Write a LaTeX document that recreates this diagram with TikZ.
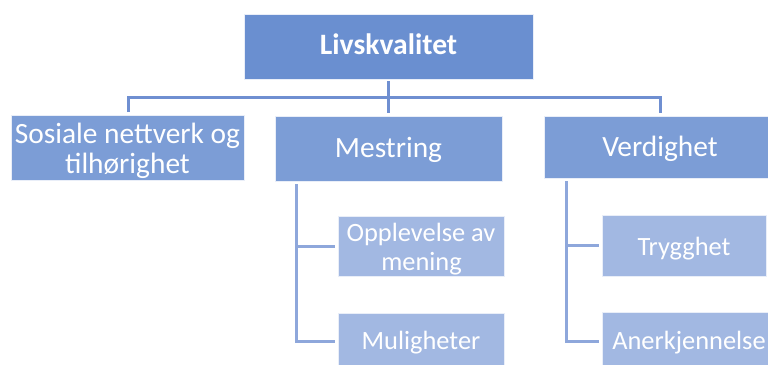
\documentclass[tikz,border=0pt]{standalone}
\usepackage{fontspec}
\setmainfont{Carlito}
\definecolor{topfill}{HTML}{6A8FD0}
\definecolor{midfill}{HTML}{7C9DD6}
\definecolor{lowfill}{HTML}{A2B8E2}
\definecolor{lineA}{HTML}{6F8FD1}
\definecolor{lineB}{HTML}{8EA7DB}
\begin{document}
\begin{tikzpicture}[x=1pt,y=-1pt,
  boxbase/.style={draw=white!85!topfill, line width=0.8pt, text=white, inner sep=0pt, text depth=5pt},
  topbox/.style={boxbase, fill=topfill, font=\fontsize{29.6}{31}\selectfont\bfseries},
  midbox/.style={boxbase, fill=midfill, font=\fontsize{29.4}{30}\selectfont},
  lowbox/.style={boxbase, fill=lowfill, font=\fontsize{26.4}{28.5}\selectfont},
  midtext/.style={text=white, inner sep=0pt, anchor=base, font=\fontsize{29.4}{30}\selectfont},
  lowtext/.style={text=white, inner sep=0pt, anchor=base, font=\fontsize{26.4}{28.5}\selectfont},
  conA/.style={draw=lineA, line width=3pt},
  conB/.style={draw=lineB, line width=3pt}]
\useasboundingbox (0,0) rectangle (768,364);
\clip (0,0) rectangle (768,364);
% top
\node[topbox, minimum width=289pt, minimum height=65pt, text height=20.6pt] (top) at (388.5,46.5) {Livskvalitet};
% level 2
\node[midbox, minimum width=233pt, minimum height=65pt] (sos) at (128,148) {};
\node[midtext] (sosA) at (127.5,143.3) {Sosiale nettverk og};
\node[midtext] (sosB) at (127.5,173.3) {tilhørighet};
\node[midbox, minimum width=227pt, minimum height=65pt, text height=22pt] (mes) at (388.5,148.5) {Mestring};
\node[midbox, minimum width=232pt, minimum height=62pt, text height=23pt] (ver) at (660,147) {Verdighet};
% level 3
\node[lowbox, minimum width=166pt, minimum height=60pt] (opp) at (421,246) {};
\node[lowtext] (oppA) at (421,241.7) {Opplevelse av};
\node[lowtext] (oppB) at (421.5,270) {mening};
\node[lowbox, minimum width=166pt, minimum height=56pt, text height=21pt] (mul) at (421,341) {Muligheter};
\node[lowbox, minimum width=164pt, minimum height=61pt, text height=24pt] (try) at (684,245.5) {Trygghet};
\node[lowbox, minimum width=174pt, minimum height=58pt, text height=21pt] (ane) at (689,341) {Anerkjennelse};
% connectors
\coordinate (bus) at (388.5,97);
\draw[conA, shorten <=2pt] (top.south) -- (bus);
\draw[conA, shorten >=3pt] (bus) -- (mes.north);
\draw[conA, shorten <=3pt, shorten >=3pt] (sos.north) |- (bus) -| (ver.north);
\coordinate (m0) at (296,184);
\coordinate (v0) at (566,181);
\draw[conB, shorten >=3pt] (m0) |- (opp.west);
\draw[conB, shorten >=3pt] (m0) |- (mul.west);
\draw[conB, shorten >=3pt] (v0) |- (try.west);
\draw[conB, shorten >=3pt] (v0) |- (ane.west);
\end{tikzpicture}
\end{document}
